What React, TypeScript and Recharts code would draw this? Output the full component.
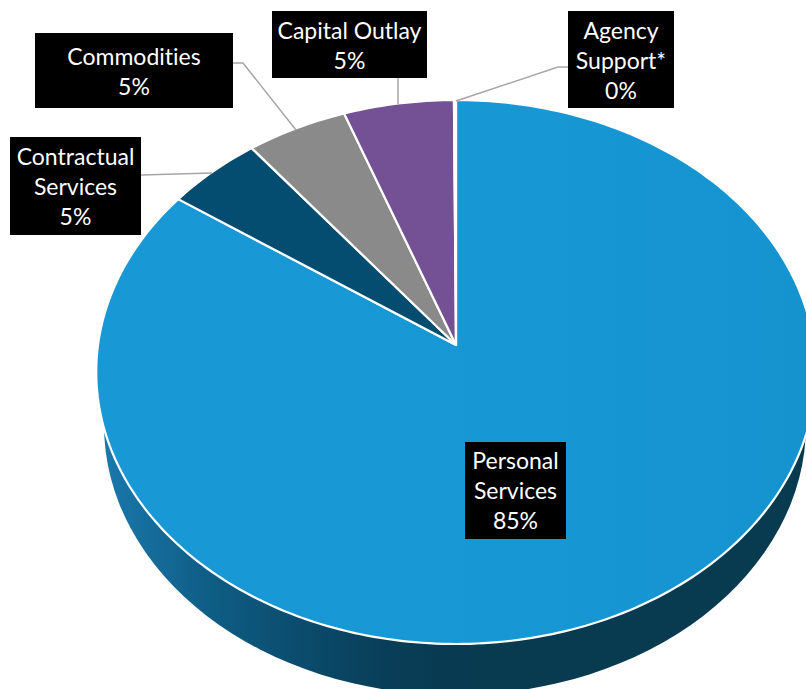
import React from "react";
import { PieChart, Pie, Cell } from "recharts";

const categories = ["Personal Services", "Contractual Services", "Commodities", "Capital Outlay", "Agency Support*"];
const shares = [84.7, 4.75, 5.0, 5.45, 0.1];
const shownPercents = ["85%", "5%", "5%", "5%", "0%"];
const wrappedNames = [
  ["Personal", "Services"],
  ["Contractual", "Services"],
  ["Commodities"],
  ["Capital Outlay"],
  ["Agency", "Support*"],
];
const fills = ["url(#topBlue)", "#044d70", "#8a8a8a", "#745094", "#745094"];

const chartData = categories.map((name, i) => ({ name, value: shares[i] }));

// Perspective of the tilted disc
const H_RADIUS = 358;
const V_RADIUS = 269.3;
const TILT = 0.0993;

// Label boxes: x, y, w, h, first baseline, leader polyline
const boxes = [
  { x: 465, y: 442, w: 101, h: 97, base: 469, line: "" },
  { x: 10, y: 137, w: 131, h: 98, base: 165, line: "141,175 212,173" },
  { x: 35, y: 33, w: 198, h: 75, base: 65, line: "233,63 243,63 296,130" },
  { x: 272, y: 11, w: 155, h: 67, base: 39, line: "398,78 398,104" },
  { x: 568, y: 11, w: 106, h: 97, base: 39, line: "568,67 558,67 456,101" },
];

function project(cx: number, cy: number, deg: number) {
  const a = (deg * Math.PI) / 180;
  const u = Math.cos(a);
  const v = Math.sin(a);
  const d = 1 + TILT * v;
  return [cx + (H_RADIUS * u) / d, cy - (V_RADIUS * v) / d];
}

function TiltedSector(props: any) {
  const { cx, cy, startAngle, endAngle, fill, index } = props;
  const steps = Math.max(2, Math.ceil(Math.abs(endAngle - startAngle)));
  let d = `M${cx},${cy}`;
  for (let i = 0; i <= steps; i++) {
    const [x, y] = project(cx, cy, startAngle + ((endAngle - startAngle) * i) / steps);
    d += `L${x.toFixed(2)},${y.toFixed(2)}`;
  }
  d += "Z";
  return (
    <g>
      {index === 0 && (
        <g>
          <defs>
            <linearGradient id="sideGrad" gradientUnits="userSpaceOnUse" x1="104" y1="0" x2="806" y2="0">
              <stop offset="0" stopColor="#1a78ab" />
              <stop offset="0.14" stopColor="#0f5f88" />
              <stop offset="0.26" stopColor="#0b4e70" />
              <stop offset="0.4" stopColor="#093e58" />
              <stop offset="0.52" stopColor="#083a50" />
              <stop offset="1" stopColor="#083a50" />
            </linearGradient>
            <linearGradient id="topBlue" gradientUnits="userSpaceOnUse" x1="97" y1="0" x2="806" y2="0">
              <stop offset="0" stopColor="#1899d6" />
              <stop offset="0.6" stopColor="#1797d4" />
              <stop offset="1" stopColor="#1493cf" />
            </linearGradient>
          </defs>
          <ellipse cx={cx - 1} cy={cy + 80} rx={351} ry={270} fill="url(#sideGrad)" />
        </g>
      )}
      <path d={d} fill={fill} stroke="#ffffff" strokeWidth={2.2} strokeLinejoin="round" />
    </g>
  );
}

function BoxLabel(props: any) {
  const { index } = props;
  const b = boxes[index];
  const lines = [...wrappedNames[index], shownPercents[index]];
  const mid = b.x + b.w / 2;
  return (
    <g>
      {b.line && <polyline points={b.line} fill="none" stroke="#a6a6a6" strokeWidth={1.5} />}
      <rect x={b.x} y={b.y} width={b.w} height={b.h} fill="#000000" />
      {lines.map((t, i) => (
        <text
          key={i}
          x={mid}
          y={b.base + i * 30}
          textAnchor="middle"
          fill="#ffffff"
          fontFamily="Lato, sans-serif"
          fontSize={23}
          style={{ fontVariantLigatures: "none" }}
        >
          {t}
        </text>
      ))}
    </g>
  );
}

export default function App() {
  return (
    <div style={{ position: "absolute", left: 0, top: 0, width: 806, height: 689, background: "#fff" }}>
      <PieChart width={806} height={689} margin={{ top: 0, right: 0, bottom: 0, left: 0 }}>
        <Pie
          data={chartData}
          dataKey="value"
          nameKey="name"
          cx={456}
          cy={345}
          outerRadius={272}
          startAngle={90}
          endAngle={-270}
          paddingAngle={0}
          isAnimationActive={false}
          shape={TiltedSector}
          label={BoxLabel}
          labelLine={false}
        >
          {chartData.map((_, i) => (
            <Cell key={i} fill={fills[i]} />
          ))}
        </Pie>
      </PieChart>
    </div>
  );
}
